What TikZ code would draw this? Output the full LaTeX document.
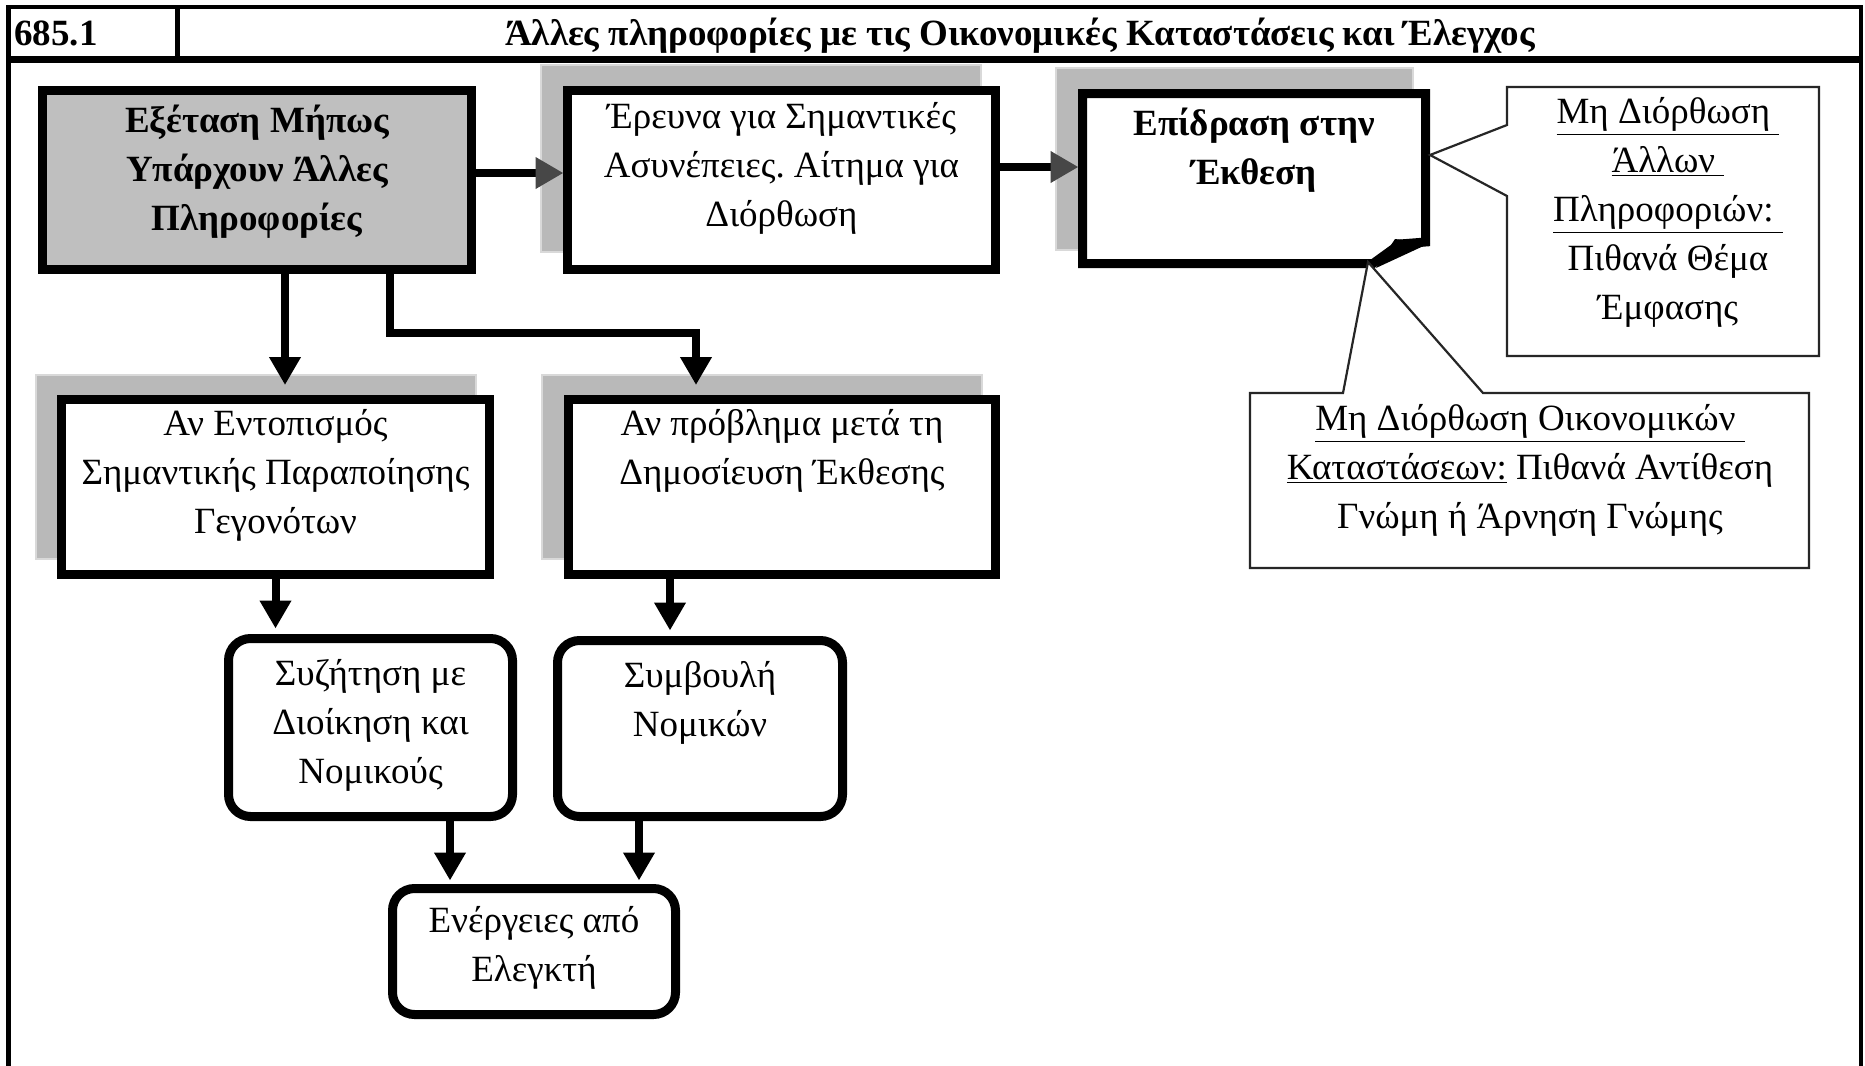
\documentclass[tikz,border=0pt]{standalone}
\usepackage{fontspec}
\setmainfont{Liberation Serif}
\usetikzlibrary{arrows.meta,fit,calc}
\frenchspacing
\begin{document}
\begin{tikzpicture}[x=0.5pt,y=-0.5pt,
  tbox/.style={draw=black,line width=4.5pt,fill=white,inner sep=0pt,outer sep=0pt,line join=miter},
  gbox/.style={tbox,fill=gray!50},
  shadowbox/.style={fill=gray!55,draw=gray!30,line width=1pt},
  rbox/.style={tbox,rounded corners=11pt},
  ghost/.style={inner sep=0pt,outer sep=0pt},
  txt/.style={font=\fontsize{18.5}{24.5}\selectfont,align=center,inner sep=0pt,anchor=north},
  btxt/.style={font=\bfseries\fontsize{18.5}{24.5}\selectfont,align=center,inner sep=0pt,anchor=north},
  htxt/.style={font=\bfseries\fontsize{18.5}{22}\selectfont,inner sep=0pt},
  arr/.style={line width=4pt,line join=miter,-{Triangle[width=15pt,length=14pt]}},
  harr/.style={line width=4pt,-{Triangle[width=15pt,length=14pt,color=black!72]}},
  callout/.style={draw=black!85,line width=1.1pt,fill=white,line join=miter}
]
\useasboundingbox (0,0) rectangle (1865,1066);
\fill[white] (0,0) rectangle (1865,1066);

% frame and header
\draw[line width=2pt] (8,7) -- (1861,7);
\draw[line width=3.5pt] (8,59.5) -- (1861,59.5);
\draw[line width=2.5pt] (8.5,5) -- (8.5,1066);
\draw[line width=2pt] (1860.5,5) -- (1860.5,1066);
\draw[line width=2.5pt] (177.5,7) -- (177.5,59.5);
\node[htxt,anchor=base west] (num) at (14,45) {685.1};
\node[htxt,anchor=base] (title) at (1020,45) {Άλλες πληροφορίες με τις Οικονομικές Καταστάσεις και Έλεγχος};

% shadows
\fill[shadowbox] (541,65) rectangle (981,252);
\fill[shadowbox] (1056,68) rectangle (1413,250);
\fill[shadowbox] (36,375) rectangle (476,559);
\fill[shadowbox] (542,375) rectangle (982,559);

% boxes
\node[gbox,fit={(42.5,90.5)(471.5,269.5)}] (g) {};
\node[tbox,fit={(567.5,90.5)(995.5,269.5)}] (er) {};
\node[ghost,fit={(1082.5,93.5)(1425.5,263.5)}] (ep) {};
\draw[tbox] (1082.5,93.5) -- (1425.5,93.5) -- (1425.5,242) -- (1400,244) -- (1373,263.5) -- (1082.5,263.5) -- cycle;
\fill (1395,239) -- (1430,243) -- (1376,268) -- cycle;
\node[tbox,fit={(61.5,399.5)(489.5,574.5)}] (ae) {};
\node[tbox,fit={(568.5,399.5)(995.5,574.5)}] (ap) {};
\node[rbox,fit={(228.5,638.5)(512.5,816.5)}] (sz) {};
\node[rbox,fit={(557.5,640.5)(842.5,816.5)}] (sm) {};
\node[rbox,fit={(392.5,888.5)(675.5,1014.5)}] (en) {};

% texts
\node[btxt] (tg) at ($(g.north)+(0,14)$) {Εξέταση Μήπως\\Υπάρχουν Άλλες\\Πληροφορίες};
\node[txt] (ter) at ($(er.north)+(0,12)$) {Έρευνα για Σημαντικές\\Ασυνέπειες. Αίτημα για\\Διόρθωση};
\node[btxt] (tep) at ($(ep.north)+(0,14)$) {Επίδραση στην\\Έκθεση};
\node[txt] (tae) at ($(ae.north)+(0,10)$) {Αν Εντοπισμός\\Σημαντικής Παραποίησης\\Γεγονότων};
\node[txt] (tap) at ($(ap.north)+(0,10)$) {Αν πρόβλημα μετά τη\\Δημοσίευση Έκθεσης};
\node[txt] (tsz) at ($(sz.north)+(0,21)$) {Συζήτηση με\\Διοίκηση και\\Νομικούς};
\node[txt] (tsm) at ($(sm.north)+(0,21)$) {Συμβουλή\\Νομικών};
\node[txt] (ten) at ($(en.north)+(0,18)$) {Ενέργειες από\\Ελεγκτή};

% callouts
\coordinate (tip1) at (1430,155);
\coordinate (tip2) at (1368,262);
\draw[callout] (1507,87) -- (1819,87) -- (1819,356) -- (1507,356) -- (1507,196) -- (tip1) -- (1507,125) -- cycle;
\draw[callout] (1250,393) -- (1343,393) -- (tip2) -- (1483,393) -- (1809,393) -- (1809,568) -- (1250,568) -- cycle;
\node[txt] (tc1) at (1668,97) {\underline{Μη Διόρθωση\ }\\\underline{Άλλων\ }\\\underline{Πληροφοριών:\ }\\Πιθανά Θέμα\\Έμφασης};
\node[txt] (tc2) at (1530,404) {\underline{Μη Διόρθωση Οικονομικών\ }\\\underline{Καταστάσεων:} Πιθανά Αντίθεση\\Γνώμη ή Άρνηση Γνώμης};

% connectors
\draw[harr,shorten >=2pt] ([yshift=3.5pt]g.east) -- ([yshift=3.5pt]g.east -| er.west);
\draw[harr,shorten >=2pt] ([yshift=6.5pt]er.east) -- ([yshift=6.5pt]er.east -| ep.west);
\coordinate (b1) at (390,333);
\draw[arr,shorten >=7.25pt] ([xshift=14pt]g.south) -- ([xshift=14pt]g.south |- ae.north);
\draw[arr,shorten >=7.25pt] (g.south -| b1) -- (b1) -| ([xshift=-43pt]ap.north);
\draw[arr,shorten >=5pt] (ae.south) -- (ae.south |- sz.north);
\draw[arr,shorten >=5pt] ([xshift=-56pt]ap.south) -- ([xshift=-56pt]ap.south |- sm.north);
\draw[arr,shorten >=4pt] ([xshift=39.75pt]sz.south) -- ([xshift=39.75pt]sz.south |- en.north);
\draw[arr,shorten >=4pt] ([xshift=-30.5pt]sm.south) -- ([xshift=-30.5pt]sm.south |- en.north);
\end{tikzpicture}
\end{document}
